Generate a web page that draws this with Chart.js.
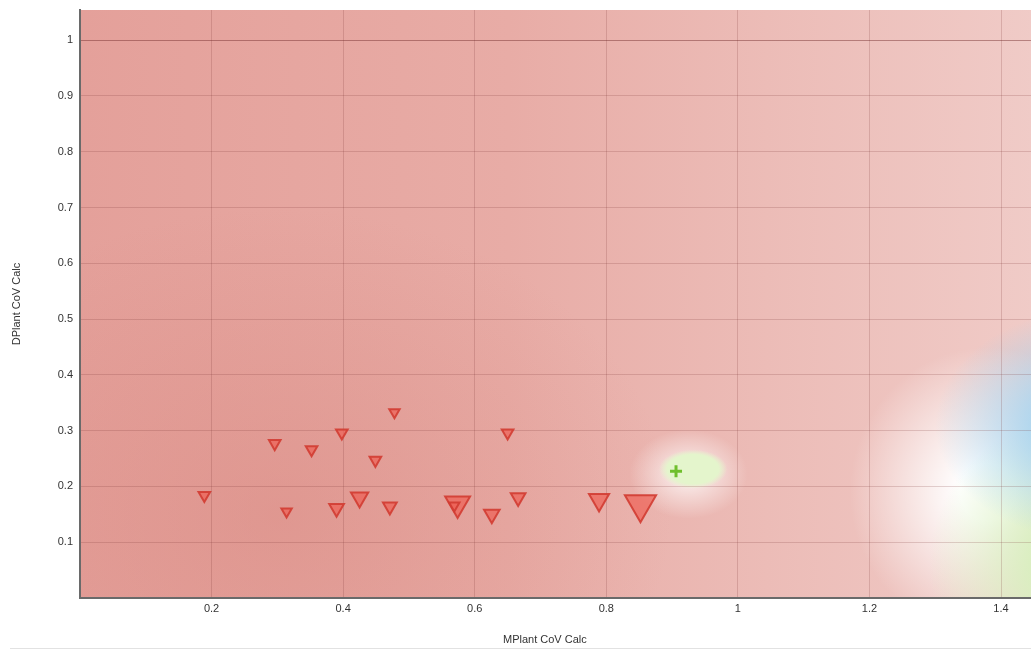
<!DOCTYPE html>
<html>
<head>
<meta charset="utf-8">
<script src="https://cdn.jsdelivr.net/npm/chart.js@4.4.0/dist/chart.umd.min.js"></script>
<style>
  html, body { margin: 0; padding: 0; background: #fff; overflow: hidden; }
  #wrap { position: relative; width: 1031px; height: 650px; }
  #rule { position: absolute; left: 10px; right: 0; top: 648px; height: 1px; background: #e2e2e2; }
  #xtitle { position: absolute; left: 503px; top: 633px; font: 11px "Liberation Sans", Arial, sans-serif; color: #333; white-space: nowrap; }
</style>
</head>
<body>
<div id="wrap">
  <canvas id="chart" width="1031" height="650" style="width:1031px;height:650px"></canvas>
  <div id="xtitle">MPlant CoV Calc</div>
  <div id="rule"></div>
</div>
<script>
// ===== DATA =====
const xTicks = [0.2, 0.4, 0.6, 0.8, 1, 1.2, 1.4];
const yTicks = [0.1, 0.2, 0.3, 0.4, 0.5, 0.6, 0.7, 0.8, 0.9, 1];

// red group (triangles), n = weight shown by marker size
const redX = [0.189, 0.296, 0.314, 0.352, 0.390, 0.398, 0.425, 0.449, 0.471, 0.478, 0.574, 0.569, 0.626, 0.650, 0.666, 0.789, 0.852];
const redY = [0.184, 0.277, 0.155, 0.266, 0.161, 0.296, 0.180, 0.247, 0.164, 0.333, 0.169, 0.166, 0.150, 0.296, 0.180, 0.176, 0.168];
const redN = [5, 5, 4, 5, 8, 5, 11, 5, 7, 4, 23, 4, 9, 5, 8, 15, 36];

// green group (cross)
const greenX = [0.906];
const greenY = [0.227];

// heat spots behind the points, in data units
const heatSpots = [
  { x: 0.30, y: 0.15, rx: 0.60, ry: 0.55, rgb: [214, 130, 122], a: 0.40, core: 0.0 },
  { x: 1.38, y: 0.19, rx: 0.21, ry: 0.26, rgb: [255, 255, 255], a: 1.0, core: 0.2 },
  { x: 1.55, y: 0.06, rx: 0.26, ry: 0.28, rgb: [216, 239, 190], a: 1.0, core: 0.35 },
  { x: 1.55, y: 0.31, rx: 0.25, ry: 0.21, rgb: [165, 212, 240], a: 1.0, core: 0.30 },
  { x: 0.925, y: 0.222, rx: 0.09, ry: 0.08, rgb: [255, 255, 255], a: 0.6, core: 0.3 },
  { x: 0.932, y: 0.231, rx: 0.052, ry: 0.035, rgb: [228, 245, 204], a: 1.0, core: 0.75 }
];

const FONT = '"Liberation Sans", Arial, sans-serif';

// ===== HEATMAP BACKGROUND =====
const heatmap = {
  id: 'heatmap',
  beforeDraw(chart) {
    const { ctx, chartArea: a, scales: { x, y } } = chart;
    ctx.save();
    ctx.beginPath();
    ctx.rect(a.left, a.top, a.right - a.left, a.bottom - a.top);
    ctx.clip();

    const g = ctx.createLinearGradient(x.getPixelForValue(0), 0, x.getPixelForValue(1.45), 0);
    g.addColorStop(0, '#e4a09a');
    g.addColorStop(0.45, '#e8aca6');
    g.addColorStop(0.72, '#ecbcb7');
    g.addColorStop(1, '#f0cbc7');
    ctx.fillStyle = g;
    ctx.fillRect(a.left, a.top, a.right - a.left, a.bottom - a.top);

    heatSpots.forEach(s => {
      const cx = x.getPixelForValue(s.x), cy = y.getPixelForValue(s.y);
      const rx = Math.abs(x.getPixelForValue(s.x + s.rx) - cx);
      const ry = Math.abs(y.getPixelForValue(s.y + s.ry) - cy);
      const c = s.rgb.join(',');
      ctx.save();
      ctx.translate(cx, cy);
      ctx.scale(1, ry / rx);
      const rg = ctx.createRadialGradient(0, 0, 0, 0, 0, rx);
      rg.addColorStop(0, `rgba(${c},${s.a})`);
      rg.addColorStop(s.core, `rgba(${c},${s.a})`);
      rg.addColorStop(1, `rgba(${c},0)`);
      ctx.fillStyle = rg;
      ctx.beginPath();
      ctx.arc(0, 0, rx, 0, Math.PI * 2);
      ctx.fill();
      ctx.restore();
    });
    ctx.restore();
  }
};

// ===== CHART =====
new Chart(document.getElementById('chart'), {
  type: 'scatter',
  data: {
    datasets: [
      {
        data: redX.map((v, i) => ({ x: v, y: redY[i], n: redN[i] })),
        pointStyle: 'triangle',
        rotation: 180,
        pointRadius: ctx => 3 * Math.sqrt(ctx.raw ? ctx.raw.n : 4),
        backgroundColor: 'rgba(238,95,84,0.7)',
        borderColor: 'rgba(210,60,50,0.9)',
        borderWidth: 2
      },
      {
        data: greenX.map((v, i) => ({ x: v, y: greenY[i] })),
        pointStyle: 'cross',
        pointRadius: 6,
        borderColor: '#6fbf2c',
        borderWidth: 3
      }
    ]
  },
  plugins: [heatmap],
  options: {
    responsive: false,
    animation: false,
    layout: { autoPadding: false, padding: { top: 10, right: 0, left: 0, bottom: 0 } },
    plugins: { legend: { display: false }, tooltip: { enabled: false } },
    scales: {
      x: {
        type: 'linear', min: 0, max: 1.4456,
        afterBuildTicks: s => { s.ticks = xTicks.map(v => ({ value: v })); },
        afterFit: s => { s.height = 52; s.paddingLeft = 0; s.paddingRight = 0; },
        grid: { color: 'rgba(120,50,50,0.2)', drawTicks: false },
        border: { display: true, color: '#6a6a6a', width: 2 },
        ticks: { padding: 4, color: '#333', font: { family: FONT, size: 11 }, callback: v => String(v), maxRotation: 0 },
        title: { display: false }
      },
      y: {
        type: 'linear', min: 0, max: 1.054,
        afterBuildTicks: s => { s.ticks = yTicks.map(v => ({ value: v })); },
        afterFit: s => { s.width = 80; s.paddingTop = 0; s.paddingBottom = 0; },
        grid: {
          color: ctx => (ctx.tick && ctx.tick.value === 1) ? 'rgba(110,40,40,0.45)' : 'rgba(120,50,50,0.2)',
          drawTicks: false
        },
        border: { display: true, color: '#6a6a6a', width: 2 },
        ticks: { padding: 7, color: '#333', font: { family: FONT, size: 11 }, callback: v => String(v) },
        title: { display: true, text: 'DPlant CoV Calc', color: '#333', font: { family: FONT, size: 11 }, padding: { top: 10 } }
      }
    }
  }
});
</script>
</body>
</html>
